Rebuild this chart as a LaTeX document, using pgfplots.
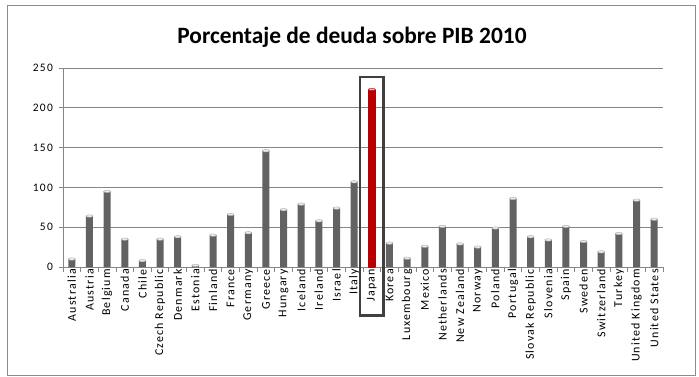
\documentclass[border=0pt]{standalone}
\usepackage{pgfplots}
\pgfplotsset{compat=1.18}
\usepackage{pgfplotstable}
\usepackage{fontspec}
\setmainfont{Carlito}
\newfontfamily\labfont[LetterSpace=10]{Carlito}
\newfontfamily\numfont[LetterSpace=12]{Carlito}
\definecolor{gridc}{HTML}{868686}
\definecolor{boxc}{HTML}{404040}
\definecolor{bardark}{HTML}{626262}
\definecolor{barmid}{HTML}{ABABAB}
\definecolor{reddark}{HTML}{B80000}
\definecolor{redmid}{HTML}{FF2A2A}

\pgfplotstableread{
x y
0 10
1 64
2 95
3 35
4 8
5 35
6 38
7 2
8 40
9 66
10 43
11 146
12 72
13 79
14 58
15 74
16 107
18 30
19 11
20 26
21 51
22 29
23 25
24 49
25 86
26 38
27 34
28 51
29 32
30 19
31 42
32 84
33 60
}\greydata

\pgfplotstableread{
x y
17 223
}\japandata

\begin{document}
\begin{tikzpicture}[x=1bp,y=1bp]
\path (0,0) rectangle (699,376);
\draw[color=gray!90, line width=0.9bp] (7,1) rectangle (695,371);
\node[anchor=base, font=\fontsize{23.5}{28}\selectfont\bfseries] at (352,333) {Porcentaje de deuda sobre PIB 2010};
\begin{axis}[
  at={(63bp,109bp)}, anchor=south west,
  scale only axis, width=600bp, height=199bp,
  xmin=-0.5, xmax=33.5, ymin=0, ymax=250,
  clip=false,
  axis x line*=bottom, axis y line*=left,
  axis line style={gridc, line width=0.8bp},
  ytick={0,50,...,250},
  ymajorgrids, grid style={gridc, line width=0.8bp},
  tick align=outside,
  major tick length=4.5bp,
  tick style={gridc, line width=0.8bp},
  xtick={-0.5,0.5,...,33.5},
  xticklabels={},
  extra x ticks={0,1,...,33},
  extra x tick style={major tick length=0pt, grid=none},
  extra x tick labels={Australia,Austria,Belgium,Canada,Chile,Czech Republic,Denmark,Estonia,Finland,France,Germany,Greece,Hungary,Iceland,Ireland,Israel,Italy,Japan,Korea,Luxembourg,Mexico,Netherlands,New Zealand,Norway,Poland,Portugal,Slovak Republic,Slovenia,Spain,Sweden,Switzerland,Turkey,United Kingdom,United States},
  x tick label style={rotate=90, anchor=east, font=\labfont\fontsize{12}{14}\selectfont, inner sep=2bp},
  y tick label style={font=\numfont\fontsize{11.5}{13}\selectfont, xshift=-2bp},
  /pgf/number format/assume math mode=true,
]
\addplot[ybar, bar width=7bp, bar shift=0pt, draw=none, left color=bardark, middle color=barmid, right color=bardark] table[x=x,y=y] {\greydata};
\addplot[only marks, mark=*, mark size=3.5bp, mark options={yscale=0.35, fill=gray!15, draw=gray!70, line width=0.4bp}] table[x=x,y=y] {\greydata};
\addplot[ybar, bar width=7bp, bar shift=0pt, draw=none, left color=reddark, middle color=redmid, right color=reddark] table[x=x,y=y] {\japandata};
\addplot[only marks, mark=*, mark size=3.5bp, mark options={yscale=0.35, fill=red!30, draw=red!70!black, line width=0.4bp}] table[x=x,y=y] {\japandata};
\draw[boxc, line width=2.5bp] (axis cs:16.33,-61) rectangle (axis cs:17.66,239);
\end{axis}
\end{tikzpicture}
\end{document}
